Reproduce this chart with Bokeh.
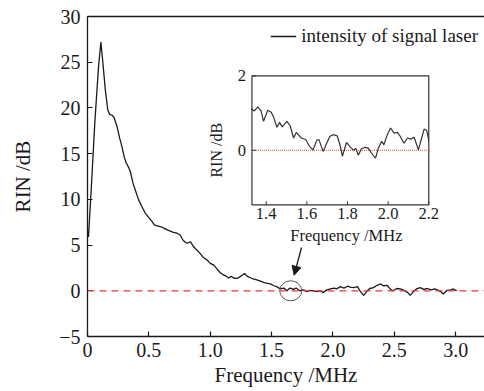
import math
from bokeh.plotting import figure
from bokeh.models import (Range1d, FixedTicker, CustomJSTickFormatter, LinearAxis,
                          Span, Arrow, NormalHead)
from bokeh.embed import file_html
from bokeh.resources import INLINE
from bokeh.core.properties import value

# ---------------- data ----------------
freq_mhz = [0.0, 0.008, 0.03, 0.06, 0.09, 0.109, 0.125, 0.145, 0.165, 0.18, 0.2, 0.215,
            0.24, 0.26, 0.28, 0.3, 0.315, 0.335, 0.35, 0.37, 0.39, 0.415, 0.44, 0.47,
            0.5, 0.525, 0.545, 0.57, 0.6, 0.63, 0.66, 0.7, 0.73, 0.755, 0.78, 0.81,
            0.84, 0.86, 0.88, 0.91, 0.94, 0.96, 0.98, 1.0, 1.03, 1.055, 1.08, 1.1,
            1.13, 1.15, 1.17, 1.19, 1.22, 1.25, 1.28, 1.3, 1.33, 1.35, 1.38, 1.41,
            1.44, 1.47, 1.49, 1.52, 1.55, 1.57, 1.6, 1.625, 1.65, 1.68, 1.7, 1.73,
            1.76, 1.79, 1.81, 1.84, 1.87, 1.9, 1.92, 1.95, 1.98, 2.01, 2.03, 2.06,
            2.09, 2.12, 2.14, 2.17, 2.2, 2.22, 2.25, 2.28, 2.3, 2.33, 2.36, 2.39,
            2.41, 2.44, 2.47, 2.49, 2.52, 2.55, 2.58, 2.61, 2.63, 2.655, 2.68, 2.71,
            2.74, 2.77, 2.8, 2.83, 2.85, 2.88, 2.9, 2.93, 2.96, 2.98, 3.0, 3.01]
rin_db = [6.5, 5.9, 11.0, 18.5, 24.5, 27.2, 25.0, 22.0, 19.8, 19.3, 19.2, 19.0,
          18.0, 16.8, 15.8, 14.6, 14.0, 13.5, 13.0, 11.8, 11.0, 10.0, 9.3, 8.5,
          8.0, 7.6, 7.2, 7.1, 7.0, 6.8, 6.6, 6.4, 6.3, 6.1, 5.5, 5.2,
          5.35, 4.9, 4.6, 4.2, 3.7, 3.5, 3.3, 3.0, 2.8, 2.4, 2.0, 1.8,
          1.6, 1.4, 1.6, 1.4, 1.35, 1.6, 1.9, 1.6, 1.4, 1.3, 1.2, 1.05,
          0.9, 0.8, 0.75, 0.55, 0.4, 0.2, 0.3, 0.0, 0.3, 0.15, 0.3, 0.0,
          0.1, -0.1, 0.05, 0.0, -0.1, 0.0, -0.2, 0.1, 0.2, 0.3, 0.2, 0.45,
          0.3, 0.5, 0.4, 0.35, 0.45, 0.0, -0.5, 0.0, 0.25, 0.35, 0.6, 0.75,
          0.55, 0.6, 0.15, 0.0, 0.25, 0.2, 0.05, -0.2, -0.5, -0.1, 0.2, 0.35,
          0.15, 0.25, 0.1, 0.2, 0.1, -0.1, -0.35, 0.05, 0.1, 0.2, 0.05, 0.05]

inset_freq_mhz = [1.326, 1.342, 1.359, 1.375, 1.387, 1.408, 1.425, 1.436, 1.453, 1.466,
                  1.479, 1.502, 1.518, 1.535, 1.548, 1.573, 1.594, 1.614, 1.63, 1.65,
                  1.66, 1.68, 1.696, 1.713, 1.729, 1.749, 1.762, 1.775, 1.795, 1.812,
                  1.828, 1.841, 1.853, 1.869, 1.886, 1.902, 1.919, 1.938, 1.951, 1.968,
                  1.979, 1.996, 2.012, 2.029, 2.045, 2.058, 2.078, 2.095, 2.111, 2.128,
                  2.149, 2.165, 2.177, 2.19, 2.2]
inset_rin_db = [1.11, 1.06, 1.17, 1.06, 0.78, 1.08, 1.02, 0.90, 0.62, 0.75,
                0.63, 0.78, 0.66, 0.33, 0.48, 0.33, 0.29, 0.10, 0.01, 0.28,
                0.28, -0.03, 0.17, 0.37, 0.42, 0.39, 0.17, -0.16, 0.21, 0.10,
                0.01, 0.05, -0.13, 0.04, 0.08, 0.06, -0.08, -0.21, 0.04, 0.24,
                0.15, 0.42, 0.60, 0.46, 0.48, 0.39, 0.19, 0.33, 0.30, 0.35,
                0.01, 0.33, 0.57, 0.53, 0.26]

x_ticks = [0, 0.5, 1.0, 1.5, 2.0, 2.5, 3.0]
x_tick_labels = ["0", "0.5", "1.0", "1.5", "2.0", "2.5", "3.0"]
y_ticks = [-5, 0, 5, 10, 15, 20, 25, 30]
y_tick_labels = ["\u22125", "0", "5", "10", "15", "20", "25", "30"]

inset_x_ticks = [1.4, 1.6, 1.8, 2.0, 2.2]
inset_x_tick_labels = ["1.4", "1.6", "1.8", "2.0", "2.2"]
inset_y_ticks = [0, 2]
inset_y_tick_labels = ["0", "2"]

legend_text = "intensity of signal laser"
x_title = "Frequency /MHz"
y_title = "RIN /dB"

# ranges / placement (layout, not data)
X_START, X_END = 0.0, 3.235
Y_START, Y_END = -5.0, 30.0
IX_START, IX_END = 1.33, 2.2
IY_START, IY_END = -1.47, 2.0
INSET_X_TARGET = (1.340, 2.781)
INSET_Y_TARGET = (9.39, 23.5)
CIRCLE_X, CIRCLE_Y = 1.656, 0.0
ARROW_START = (1.744, 4.73)
ARROW_END = (1.684, 1.7)

FONT = "Liberation Serif"
INK = "#1a1a1a"

p = figure(width=484, height=391, output_backend="svg", toolbar_location=None,
           x_range=Range1d(X_START, X_END), y_range=Range1d(Y_START, Y_END),
           min_border_left=87, min_border_right=0, min_border_top=16, min_border_bottom=55)
p.outline_line_color = None
p.grid.visible = False
p.background_fill_color = "white"
p.border_fill_color = "white"

def fmt(tvals, tlabels):
    return CustomJSTickFormatter(args=dict(tvals=tvals, tlabels=tlabels),
                                 code="const i = tvals.indexOf(tick); return i >= 0 ? tlabels[i] : '';")

for ax, tv, tl in ((p.xaxis[0], x_ticks, x_tick_labels), (p.yaxis[0], y_ticks, y_tick_labels)):
    ax.ticker = FixedTicker(ticks=tv)
    ax.formatter = fmt(tv, tl)
    ax.major_tick_in = 5
    ax.major_tick_out = 0
    ax.minor_tick_line_color = None
    ax.axis_line_color = INK
    ax.axis_line_width = 1.3
    ax.major_tick_line_color = INK
    ax.major_tick_line_width = 1.2
    ax.major_label_text_font = FONT
    ax.major_label_text_font_size = "20px"
    ax.major_label_text_color = INK
    ax.axis_label_text_font = FONT
    ax.axis_label_text_font_size = "21px"
    ax.axis_label_text_font_style = "normal"
    ax.axis_label_text_color = INK

p.xaxis[0].axis_label = x_title
p.xaxis[0].major_label_standoff = 6
p.xaxis[0].axis_label_standoff = 3
p.yaxis[0].axis_label = y_title
p.yaxis[0].major_label_standoff = 7
p.yaxis[0].axis_label_standoff = 21

top_axis = LinearAxis(ticker=FixedTicker(ticks=[]), major_tick_in=0, major_tick_out=0,
                      minor_tick_line_color=None, major_label_text_font_size="0px",
                      axis_line_color=INK, axis_line_width=1.3)
p.add_layout(top_axis, "above")

# zero reference line
p.add_layout(Span(location=0, dimension="width", line_color="#e8383d",
                  line_dash="7 5", line_width=1.3))

# main curve
p.line(freq_mhz, rin_db, line_color=INK, line_width=1.3, legend_label=legend_text)

leg = p.legend[0]
leg.location = "top_right"
leg.border_line_color = None
leg.background_fill_alpha = 0
leg.label_text_font = FONT
leg.label_text_font_size = "19px"
leg.label_text_color = INK
leg.glyph_width = 26
leg.glyph_height = 28
leg.label_height = 28
leg.label_standoff = 5
leg.margin = 6
leg.padding = 9
leg.spacing = 0

# circle + arrow annotation
p.ellipse(x=[CIRCLE_X], y=[CIRCLE_Y], width=22, height=20, width_units="screen",
          height_units="screen", fill_color=None, line_color="#555555", line_width=1)
p.add_layout(Arrow(end=NormalHead(size=9, fill_color=INK, line_color=INK),
                   x_start=ARROW_START[0], y_start=ARROW_START[1],
                   x_end=ARROW_END[0], y_end=ARROW_END[1],
                   line_color=INK, line_width=1.3))

# ---------------- inset ----------------
ins = p.subplot(x_source=Range1d(IX_START, IX_END), y_source=Range1d(IY_START, IY_END),
                x_target=Range1d(*INSET_X_TARGET), y_target=Range1d(*INSET_Y_TARGET))
ins.quad(left=[IX_START], right=[IX_END], bottom=[IY_START], top=[IY_END],
         fill_color="white", line_color="#333333", line_width=1.2)
ins.line([IX_START, IX_END], [0, 0], line_color="#e8383d", line_dash="1 1", line_width=1)
ins.line(inset_freq_mhz, inset_rin_db, line_color="#333333", line_width=1.2)
n = len(inset_x_ticks)
ins.segment(x0=inset_x_ticks, y0=[IY_START] * n, x1=inset_x_ticks, y1=[IY_START + 0.1] * n,
            line_color="#333333", line_width=1)
m = len(inset_y_ticks)
ins.segment(x0=[IX_START] * m, y0=inset_y_ticks, x1=[IX_START + 0.02] * m, y1=inset_y_ticks,
            line_color="#333333", line_width=1)
ins.text(x=inset_x_ticks, y=[IY_START] * n, text=inset_x_tick_labels,
         text_align="center", text_baseline="top", y_offset=3,
         text_font=value(FONT), text_font_size="16.5px", text_color=INK)
ins.text(x=[IX_START] * m, y=inset_y_ticks, text=inset_y_tick_labels,
         text_align="right", text_baseline="middle", x_offset=-6,
         text_font=value(FONT), text_font_size="16.5px", text_color=INK)
ins.text(x=[(IX_START + IX_END) / 2], y=[IY_START], text=[x_title],
         text_align="center", text_baseline="top", x_offset=6, y_offset=21,
         text_font=value(FONT), text_font_size="16.5px", text_color=INK)
ins.text(x=[IX_START], y=[0], text=[y_title], angle=math.pi / 2,
         text_align="center", text_baseline="middle", x_offset=-35,
         text_font=value(FONT), text_font_size="16px", text_color=INK)

open("out.html", "w").write(file_html(p, INLINE))
